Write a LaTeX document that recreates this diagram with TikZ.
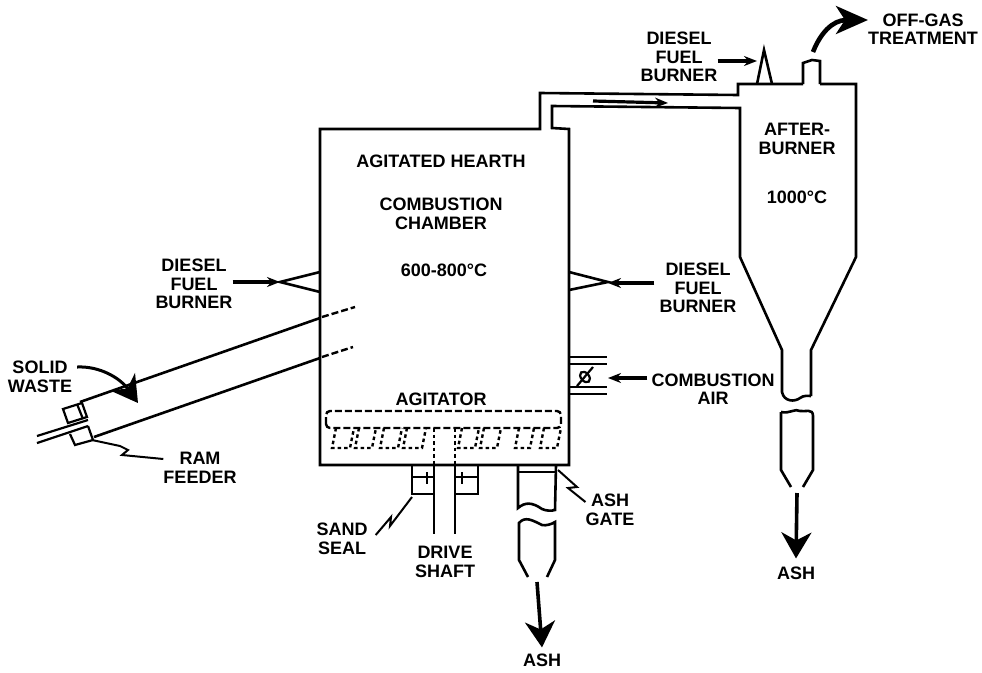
\documentclass[tikz,border=0pt]{standalone}
\usepackage{fontspec}
\setsansfont{Liberation Sans}
\usetikzlibrary{arrows.meta}
\tikzset{
  lbl/.style={font=\sffamily\bfseries\fontsize{18}{18.5}\selectfont, align=center, inner sep=0pt},
  wall/.style={line width=2.6pt, draw=black},
  thinwall/.style={line width=2.2pt, draw=black},
  hidden/.style={line width=2.4pt, draw=black, dash pattern=on 7pt off 3pt},
  dotline/.style={line width=2.4pt, draw=black, dash pattern=on 3.5pt off 3pt},
  arr/.style={-{Stealth[length=13pt,width=10pt]}, line width=3.2pt},
  fatarr/.style={-{Stealth[length=26pt,width=30pt,inset=8pt]}, line width=3.6pt},
  leader/.style={line width=2pt, draw=black},
}
\begin{document}
\begin{tikzpicture}[x=1pt, y=-1pt]
    \useasboundingbox (0,0) rectangle (982,672);

    % chamber, duct and afterburner
    \draw[wall] (811,396) -- (811,350) -- (856,257) -- (856,84) -- (820,84)
      (803,84) -- (738,84) -- (738,95) -- (540,93) -- (540,129) -- (320,129)
      -- (320,465) -- (569,465) -- (569,129) -- (552,128) -- (552,106)
      -- (740,108) -- (740,257) -- (782,350) -- (782,392)
      .. controls (784,402) and (795,402) .. (800,398) .. controls (804,395) and (808,396) .. (811,396);
    \draw[wall] (803,84) -- (803,63) -- (812,60) -- (820,61) -- (820,84);
    \draw[wall] (781,412) .. controls (790,414) and (795,408) .. (800,411)
      .. controls (805,412) and (813,408) .. (813,416) -- (813,470) -- (803,487);
    \draw[wall] (781,412) -- (781,470) -- (791,487);
    \draw[wall] (757,84) -- (764,50) -- (772,84);

    % burners on the chamber
    \draw[wall] (320,272) -- (280,282) -- (320,292);
    \draw[wall] (569,272) -- (608,282) -- (569,290);
    \coordinate (ltip) at (280,282);
    \coordinate (rtip) at (608,283);
    \coordinate (ttip) at (757,61);

    % combustion air
    \foreach \y in {357,364,387,394}
      \draw[wall] (569,\y) -- (607,\y);
    \draw[thinwall, rotate around={-50:(585,377)}] (585,377) ellipse (6pt and 4pt);
    \draw[thinwall] (577,386) -- (593,367);
    \coordinate (airtip) at (608,378);

    % feed tube and ram
    \draw[wall] (80,402) -- (320,318);
    \draw[wall] (94,437) -- (320,358);
    \draw[hidden] (322,317) -- (355,307);
    \draw[hidden] (322,357) -- (353,347);
    \draw[thinwall] (63,409) -- (82,403) -- (87,417) -- (68,423) -- cycle;
    \draw[thinwall] (77,404) -- (83,419);
    \draw[thinwall] (70,434) -- (75,445) -- (93,440) -- (88,426);
    \draw[thinwall] (37,436) -- (88,420);
    \draw[thinwall] (37,443) -- (88,426);
    \coordinate (ramend) at (92,440);
    \coordinate (wastetip) at (138,403);

    % agitator
    \draw[hidden, rounded corners=4pt] (326,428) -- (326,411) -- (561,411) -- (561,428) -- cycle;
    \foreach \x/\w in {332/18, 355/17, 380/18, 403/19, 458/17, 480/17, 515/15, 540/17}
      \draw[dotline] ({\x+4},428) -- (\x,448) -- ({\x+\w},448) -- ({\x+\w+4},428);
    \draw[dotline] (434,428) -- (434,465);
    \draw[dotline] (455,428) -- (455,465);

    % drive shaft and sand seal
    \draw[wall] (434,465) -- (434,534);
    \draw[wall] (455,465) -- (455,534);
    \draw[wall] (412,465) -- (412,494) -- (434,494);
    \draw[wall] (478,465) -- (478,494) -- (455,494);
    \draw[thinwall] (412,477) -- (434,477) (455,477) -- (478,477);
    \draw[thinwall] (427,472) -- (427,484) (462,472) -- (462,484);

    % ash chute
    \draw[wall] (518,472) -- (556,472);
    \draw[wall] (518,465) -- (518,508) .. controls (525,502) and (532,502) .. (542,509)
      .. controls (546,511) and (552,511) .. (555,510) -- (556,465);
    \draw[wall] (528,577) -- (519,560) -- (519,523) .. controls (525,516) and (532,520) .. (542,525)
      .. controls (546,526) and (552,524) .. (555,522) -- (555,560) -- (547,577);

    % labels
    \node[lbl] (hearth) at (441,161) {AGITATED HEARTH};
    \node[lbl] (chamber) at (441,214) {COMBUSTION\\CHAMBER};
    \node[lbl] (temp) at (444,270) {600-800°C};
    \node[lbl] (after) at (797,139) {AFTER-\\BURNER};
    \node[lbl] (temp2) at (797,197) {1000°C};
    \node[lbl] (lburner) at (194,284) {DIESEL\\FUEL\\BURNER};
    \node[lbl] (rburner) at (698,288) {DIESEL\\FUEL\\BURNER};
    \node[lbl] (tburner) at (679,57) {DIESEL\\FUEL\\BURNER};
    \node[lbl] (offgas) at (923,29) {OFF-GAS\\TREATMENT};
    \node[lbl] (air) at (713,389) {COMBUSTION\\AIR};
    \node[lbl] (agit) at (441,399) {AGITATOR};
    \node[lbl] (waste) at (40,377) {SOLID\\WASTE};
    \node[lbl] (ram) at (200,468) {RAM\\FEEDER};
    \node[lbl] (sand) at (342,539) {SAND\\SEAL};
    \node[lbl] (drive) at (445,562) {DRIVE\\SHAFT};
    \node[lbl] (gate) at (610,510) {ASH\\GATE};
    \node[lbl] (ash1) at (542,660) {ASH};
    \node[lbl] (ash2) at (796,573) {ASH};

    % arrows
    \draw[arr] (lburner.east |- ltip) -- (ltip);
    \draw[arr] ([xshift=-5pt]rburner.west |- rtip) -- (rtip);
    \draw[arr] ([yshift=-4pt]tburner.east) -- (ttip);
    \draw[arr] ([xshift=-4pt,yshift=11pt]air.west) -- (airtip);
    \draw[arr] (593,101) -- (668,103);
    \draw[fatarr] (537,582) -- ([yshift=6pt]ash1.north);
    \draw[fatarr] (797,493) -- ([yshift=8pt]ash2.north);
    \draw[line width=4.6pt, -{Stealth[length=32pt,width=28pt,inset=9pt]}] (813,52) .. controls (820,34) and (832,20) .. (offgas.west |- 0,20);
    \draw[fatarr, line width=3pt] ([xshift=5pt,yshift=10pt]waste.east) .. controls (100,366) and (120,378) .. (wastetip);

    % leaders
    \draw[leader] (ramend) -- (120,446) -- (128,450) -- (122,455) -- ([yshift=9pt]ram.west);
    \draw[leader] ([xshift=8pt,yshift=4pt]sand.east) -- (391,517) -- (390,526) -- (412,497);
    \draw[leader] (558,470) -- (577,487) -- (568,488) -- ([yshift=8pt]gate.west);
\end{tikzpicture}
\end{document}
